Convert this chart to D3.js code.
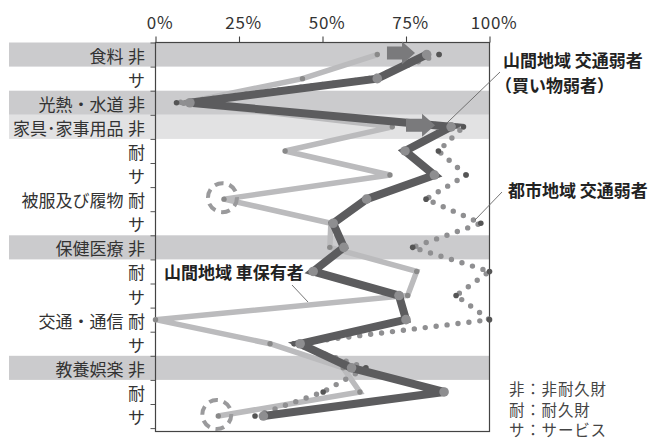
<!DOCTYPE html>
<html><head><meta charset="utf-8">
<script src="https://cdn.jsdelivr.net/npm/d3@7"></script>
<style>
html,body{margin:0;padding:0;background:#fff;}
svg{display:block;font-family:"Noto Sans CJK JP","Noto Sans",sans-serif;}
</style></head><body>
<svg id="chart" width="648" height="439"></svg>
<script>
// Expenditure items (one row each) and their type code
const groups = ["食料","","光熱・水道","家具･家事用品","","","被服及び履物","","保健医療","","","交通・通信","","教養娯楽","",""];
const kinds  = ["非","サ","非","非","耐","サ","耐","サ","非","耐","サ","耐","サ","非","耐","サ"];

// Shares (%) per row for the three household groups
const mountainWeak = [81.2, 66.4, 10.3, 88.5, 74.7, 83.5, 63.2, 53.2, 56.4, 47.2, 72.9, 75.0, 43.3, 58.7, 86.4, 32.3];
const mountainCar  = [66.4, 44.0, 8.8, 70.9, 38.8, 70.2, 20.5, 52.5, 52.2, 78.2, 75.5, 0.0, 34.3, 56.2, 61.2, 18.8];
const urbanWeak    = [84.9, 64.0, 6.3, 92.2, 84.7, 93.0, 81.0, 97.4, 77.0, 100.0, 90.0, 100.0, 41.5, 63.0, 50.2, 29.8];

const xTicks = [0, 25, 50, 75, 100];
const legendLines = ["非：非耐久財", "耐：耐久財", "サ：サービス"];

// Shift arrows (row, start value, end value) and highlighted rows of the car-owner series
const shiftArrows = [{row: 0, from: 69.3, to: 77.7}, {row: 3, from: 75.0, to: 83.7}];
const circledRows = [6, 15];

const svg = d3.select("#chart");
const nRows = kinds.length;
const x = d3.scaleLinear().domain([0, 100]).range([155.5, 489.5]);
const y = d3.scaleBand().domain(d3.range(nRows)).range([42.5, 428.1]).paddingInner(0).paddingOuter(0);
const yEdge = d3.scaleLinear().domain([0, nRows]).range([42.5, 428.1]);
const bw = y.bandwidth();
const cy = i => y(i) + bw / 2;
const frameBottom = 431.5;

// Shaded bands on 非 rows; a banded row right after another band gets a lighter tone
svg.append("g").selectAll("rect")
  .data(d3.range(nRows).filter(i => kinds[i] === "非"))
  .join("rect")
  .attr("x", 9).attr("width", x(100) - 9)
  .attr("y", i => y(i)).attr("height", bw)
  .attr("fill", i => (i > 0 && kinds[i - 1] === "非") ? "#e2e2e3" : "#cbcbcd");

// Top axis
const axisTopG = svg.append("g").attr("transform", `translate(0,${y.range()[0]})`)
  .call(d3.axisTop(x).tickValues(xTicks).tickSize(6).tickSizeOuter(0).tickFormat(d => d + "%"));
axisTopG.select(".domain").remove();
axisTopG.selectAll(".tick line").attr("stroke", "#444").attr("stroke-width", 1.1);
axisTopG.selectAll(".tick text").attr("font-size", 17).attr("fill", "#333")
  .attr("dx", 4).attr("y", -14).attr("letter-spacing", 0.6)
  .attr("font-family", '"Noto Sans CJK JP", sans-serif');

// Left tick marks at row boundaries
const axisLeftG = svg.append("g").attr("transform", `translate(${x(0)},0)`)
  .call(d3.axisLeft(yEdge).tickValues(d3.range(nRows + 1)).tickSize(5).tickFormat(""));
axisLeftG.select(".domain").remove();
axisLeftG.selectAll(".tick line").attr("stroke", "#555").attr("stroke-width", 1);

// Plot frame
svg.append("rect")
  .attr("x", x(0)).attr("y", y.range()[0])
  .attr("width", x(100) - x(0)).attr("height", frameBottom - y.range()[0])
  .attr("fill", "none").attr("stroke", "#444").attr("stroke-width", 1.2);

// Row labels
const labels = svg.append("g").attr("font-size", 17).attr("fill", "#333").attr("dominant-baseline", "central");
labels.selectAll("text.grp").data(d3.range(nRows).filter(i => groups[i]))
  .join("text").attr("class", "grp")
  .attr("x", 123.5).attr("y", i => cy(i) + 0.5).attr("text-anchor", "end").text(i => groups[i]);
labels.selectAll("text.kind").data(d3.range(nRows))
  .join("text").attr("class", "kind")
  .attr("x", 145).attr("y", i => cy(i) + 0.5).attr("text-anchor", "end").text(i => kinds[i]);

const line = d3.line().x(d => x(d)).y((d, i) => cy(i));

// Mountain area, car owners
svg.append("path").datum(mountainCar).attr("d", line)
  .attr("fill", "none").attr("stroke", "#bbbbbd").attr("stroke-width", 5.5).attr("stroke-linejoin", "miter");
svg.append("g").selectAll("circle").data(mountainCar).join("circle")
  .attr("cx", d => x(d)).attr("cy", (d, i) => cy(i)).attr("r", 2.7).attr("fill", "#898989");

// Urban area, transport-disadvantaged (dotted)
svg.append("path").datum(urbanWeak).attr("d", line)
  .attr("fill", "none").attr("stroke", "#8f8f91").attr("stroke-width", 5.4)
  .attr("stroke-linecap", "round").attr("stroke-dasharray", "0 11");
svg.append("g").selectAll("circle").data(urbanWeak).join("circle")
  .attr("cx", d => x(d)).attr("cy", (d, i) => cy(i)).attr("r", 2.8).attr("fill", "#555");

// Mountain area, transport-disadvantaged (shopping-disadvantaged)
svg.append("path").datum(mountainWeak).attr("d", line)
  .attr("fill", "none").attr("stroke", "#5c5c5e").attr("stroke-width", 8).attr("stroke-linejoin", "miter");
svg.append("g").selectAll("circle").data(mountainWeak).join("circle")
  .attr("cx", d => x(d)).attr("cy", (d, i) => cy(i)).attr("r", 4.8).attr("fill", "#8e8e90");

// Shift arrows
const arrowPath = a => {
  const x0 = x(a.from), x1 = x(a.to), yc = cy(a.row) - 1.5;
  const head = 13, bh = 6.5, hh = 11.5;
  return `M${x0},${yc - bh}L${x1 - head},${yc - bh}L${x1 - head},${yc - hh}L${x1},${yc}` +
         `L${x1 - head},${yc + hh}L${x1 - head},${yc + bh}L${x0},${yc + bh}Z`;
};
svg.append("g").selectAll("path").data(shiftArrows).join("path")
  .attr("d", arrowPath).attr("fill", "#7a7a7c");

// Dashed highlight circles
svg.append("g").selectAll("circle").data(circledRows).join("circle")
  .attr("cx", i => x(mountainCar[i]) - 1.5).attr("cy", i => cy(i) - 1.5).attr("r", 14.5)
  .attr("fill", "none").attr("stroke", "#9a9a9c").attr("stroke-width", 4).attr("stroke-dasharray", "9 6");

// Series annotations with leader lines
const notes = svg.append("g").attr("font-size", 17).attr("font-weight", "bold").attr("fill", "#222");
const leader = (x1, y1, x2, y2) => svg.append("line")
  .attr("x1", x1).attr("y1", y1).attr("x2", x2).attr("y2", y2)
  .attr("stroke", "#666").attr("stroke-width", 0.9);

leader(500, 72, x(mountainWeak[3]) - 4, cy(3) - 4);
notes.append("text").attr("x", 503).attr("y", 67).text("山間地域 交通弱者");
notes.append("text").attr("x", 495).attr("y", 92).text("（買い物弱者）");

leader(502, 192, 475, 220);
notes.append("text").attr("x", 508).attr("y", 197).text("都市地域 交通弱者");

leader(292, 285, 308, 302);
notes.append("text").attr("x", 164).attr("y", 279).text("山間地域 車保有者");

// Legend for type codes
svg.append("g").attr("font-size", 15.5).attr("fill", "#444").attr("dominant-baseline", "central")
  .selectAll("text").data(legendLines).join("text")
  .attr("x", 509).attr("y", (d, i) => 388 + i * 20.5).attr("letter-spacing", 0.8).text(d => d);
</script>
</body></html>
